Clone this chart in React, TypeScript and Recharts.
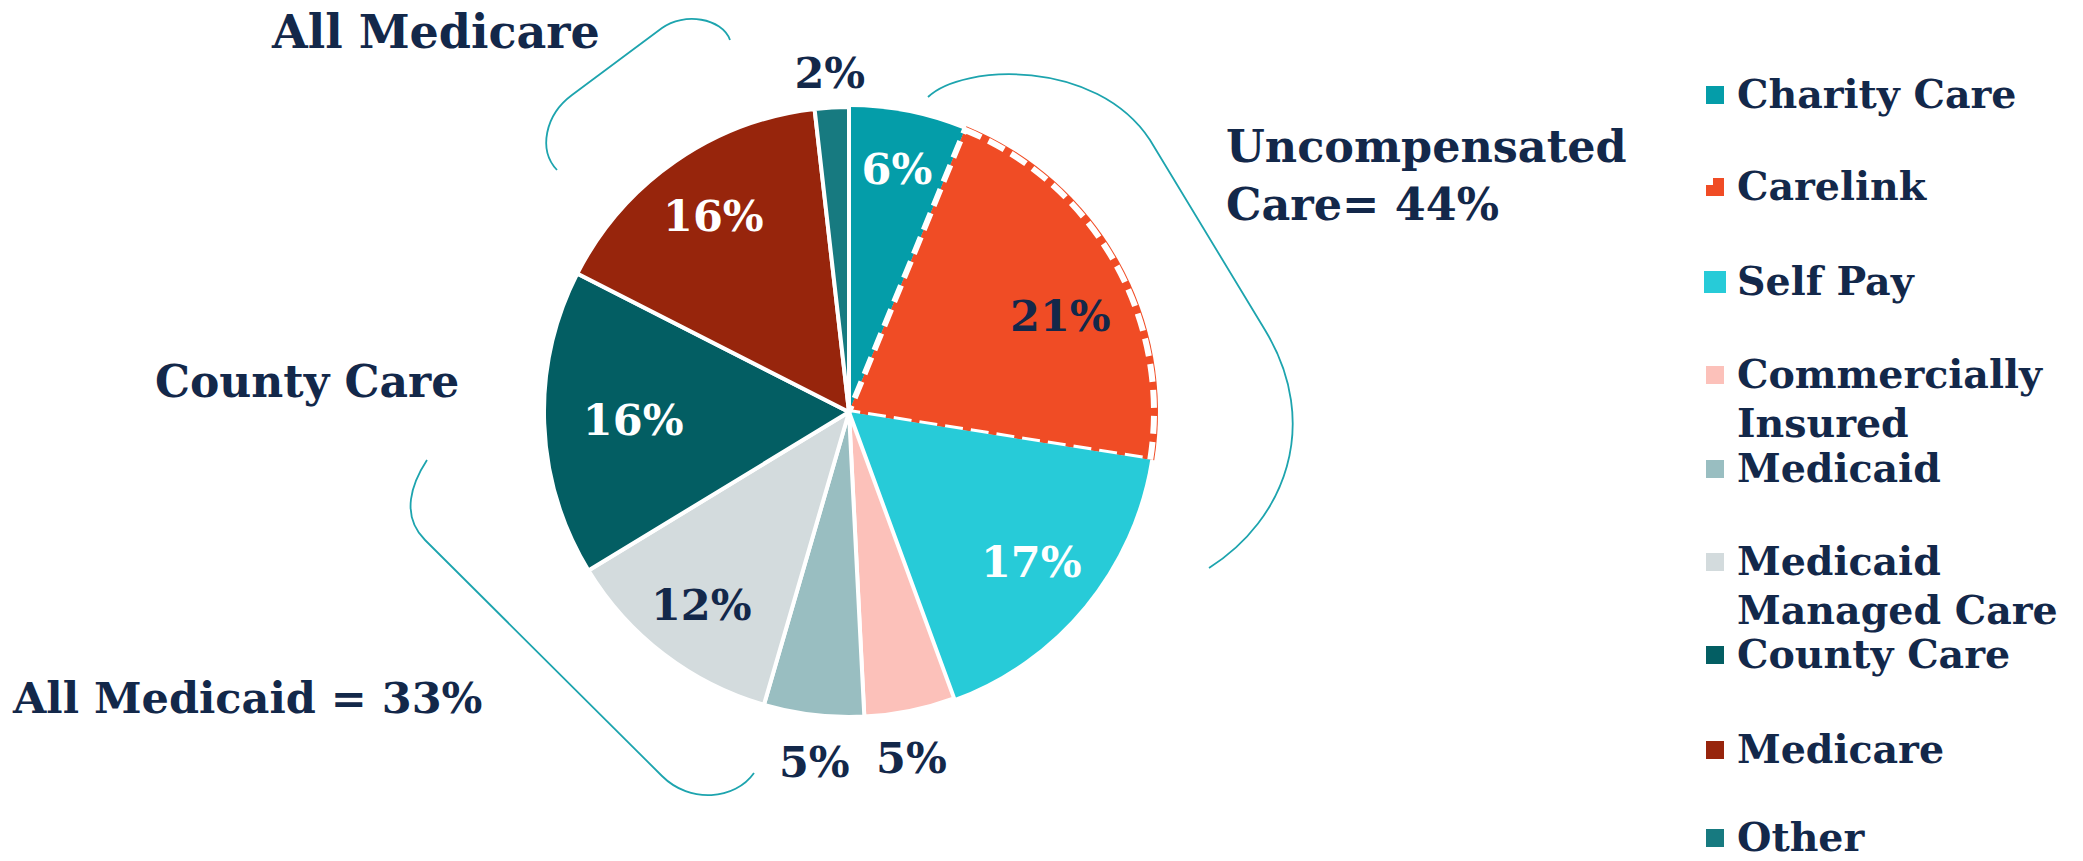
import React from 'react';
import { PieChart, Pie, Cell, Legend } from 'recharts';

const CATEGORIES = [
  'Charity Care',
  'Carelink',
  'Self Pay',
  'Commercially Insured',
  'Medicaid',
  'Medicaid Managed Care',
  'County Care',
  'Medicare',
  'Other',
];
const SHARES = [6.2, 21.3, 16.9, 4.8, 5.3, 11.8, 16.2, 15.7, 1.8];
const SHARE_LABELS = ['6%', '21%', '17%', '5%', '5%', '12%', '16%', '16%', '2%'];
const LEGEND_LINES = [
  ['Charity Care'],
  ['Carelink'],
  ['Self Pay'],
  ['Commercially', 'Insured'],
  ['Medicaid'],
  ['Medicaid', 'Managed Care'],
  ['County Care'],
  ['Medicare'],
  ['Other'],
];
const COLORS = ['#049DA9', '#F04C25', '#27CBD8', '#FCC1BA', '#99BEC1', '#D3DBDD', '#035E63', '#97250C', '#177A80'];

const NAVY = '#13284A';
const BRACKET = '#1DA4AE';
const FONT = '"DejaVu Serif", "Liberation Serif", serif';

const LABEL_COLORS = ['#fff', NAVY, '#fff', NAVY, NAVY, NAVY, '#fff', '#fff', NAVY];
const LABEL_R = [248, 232, 236, 352, 352, 243, 216, 238, 340];
const LABEL_SHIFT = [0, -5, 0, -1.3, 1, 0, 0, 0, 0];
const LEGEND_BASELINES = [108, 200, 295, 388, 482, 575, 668, 763, 851];
const LEGEND_LEFT = 1700;

const data = CATEGORIES.map((name, i) => ({ name, value: SHARES[i] }));

const RAD = Math.PI / 180;

const renderLabel = (props: any) => {
  const { cx, cy, midAngle, index } = props;
  const a = (midAngle + LABEL_SHIFT[index]) * RAD;
  const r = LABEL_R[index];
  const x = cx + r * Math.cos(-a);
  const y = cy + r * Math.sin(-a);
  return (
    <text
      x={x}
      y={y + 15}
      textAnchor="middle"
      fill={LABEL_COLORS[index]}
      fontFamily={FONT}
      fontWeight="bold"
      fontSize={43}
    >
      {SHARE_LABELS[index]}
    </text>
  );
};

const renderLegend = (props: any) => {
  const payload: any[] = props.payload || [];
  const seen = new Set<number>();
  const items: number[] = [];
  payload.forEach((entry: any) => {
    const idx = CATEGORIES.indexOf(entry && entry.value);
    if (idx >= 0 && !seen.has(idx)) {
      seen.add(idx);
      items.push(idx);
    }
  });
  const list = items.length ? items : CATEGORIES.map((_, i) => i);
  return (
    <svg width={383} height={861} style={{ display: 'block' }}>
      {list.map((i: number) => {
        const base = LEGEND_BASELINES[i];
        const big = i === 2;
        const size = big ? 22 : 18;
        const sx = (big ? 1704 : 1706) - LEGEND_LEFT;
        const sy = base - (big ? 24 : 22);
        return (
          <g key={i}>
            <rect x={sx} y={sy} width={size} height={size} fill={COLORS[i]} />
            {i === 1 ? (
              <rect x={sx - 1} y={sy - 1} width={8} height={8} fill="#fff" />
            ) : null}
            {LEGEND_LINES[i].map((line, j) => (
              <text
                key={j}
                x={1737 - LEGEND_LEFT}
                y={base + j * 49}
                fill={NAVY}
                fontFamily={FONT}
                fontWeight="bold"
                fontSize={39.5}
              >
                {line}
              </text>
            ))}
          </g>
        );
      })}
    </svg>
  );
};

const STROKES = ['none', '#fff', 'none', '#fff', '#fff', '#fff', '#fff', '#fff', '#fff'];
const RIM_FILLS = ['none', COLORS[1], 'none', 'none', 'none', 'none', 'none', 'none', 'none'];

export default function App() {
  return (
    <div style={{ position: 'absolute', left: 0, top: 0, width: 2083, height: 861, background: '#fff' }}>
      <PieChart width={2083} height={861} margin={{ top: 0, right: 0, bottom: 0, left: 0 }}>
        <Pie
          data={data}
          dataKey="value"
          nameKey="name"
          cx={849}
          cy={412}
          outerRadius={309}
          startAngle={90}
          endAngle={-270}
          isAnimationActive={false}
          legendType="none"
          stroke="none"
        >
          {data.map((d, i) => (
            <Cell key={d.name} fill={RIM_FILLS[i]} stroke="none" />
          ))}
        </Pie>
        <Pie
          data={data}
          dataKey="value"
          nameKey="name"
          cx={849}
          cy={412}
          outerRadius={305}
          startAngle={90}
          endAngle={-270}
          isAnimationActive={false}
          label={renderLabel}
          labelLine={false}
        >
          {data.map((d, i) => (
            <Cell
              key={d.name}
              fill={COLORS[i]}
              stroke={STROKES[i]}
              strokeWidth={i === 1 ? 6 : 4}
              strokeDasharray={i === 1 ? '18 8' : undefined}
            />
          ))}
        </Pie>
        <Legend
          layout="vertical"
          align="right"
          verticalAlign="top"
          content={renderLegend}
          wrapperStyle={{ left: LEGEND_LEFT, top: 0, width: 383, height: 861 }}
        />
      </PieChart>
      <svg
        width={2083}
        height={861}
        style={{ position: 'absolute', left: 0, top: 0, pointerEvents: 'none' }}
      >
        <g fill="none" stroke={BRACKET} strokeWidth={1.8}>
          <path d="M730,40 C722,18 684,12 662,28 L572,95 C545,115 538,150 557,170" />
          <path d="M928,97 C962,64 1096,58 1150,140 L1265,330 C1322,424 1285,520 1209,568" />
          <path d="M427,460 C412,483 400,515 425,540 L662,776 C690,804 735,800 754,773" />
        </g>
        <g fill={NAVY} fontFamily={FONT} fontWeight="bold">
          <text x={272} y={48} fontSize={46}>All Medicare</text>
          <text x={1226} y={162} fontSize={44.5}>Uncompensated</text>
          <text x={1226} y={220} fontSize={44.5}>Care= 44%</text>
          <text x={155} y={397} fontSize={44}>County Care</text>
          <text x={13} y={713} fontSize={43}>All Medicaid = 33%</text>
        </g>
      </svg>
    </div>
  );
}
